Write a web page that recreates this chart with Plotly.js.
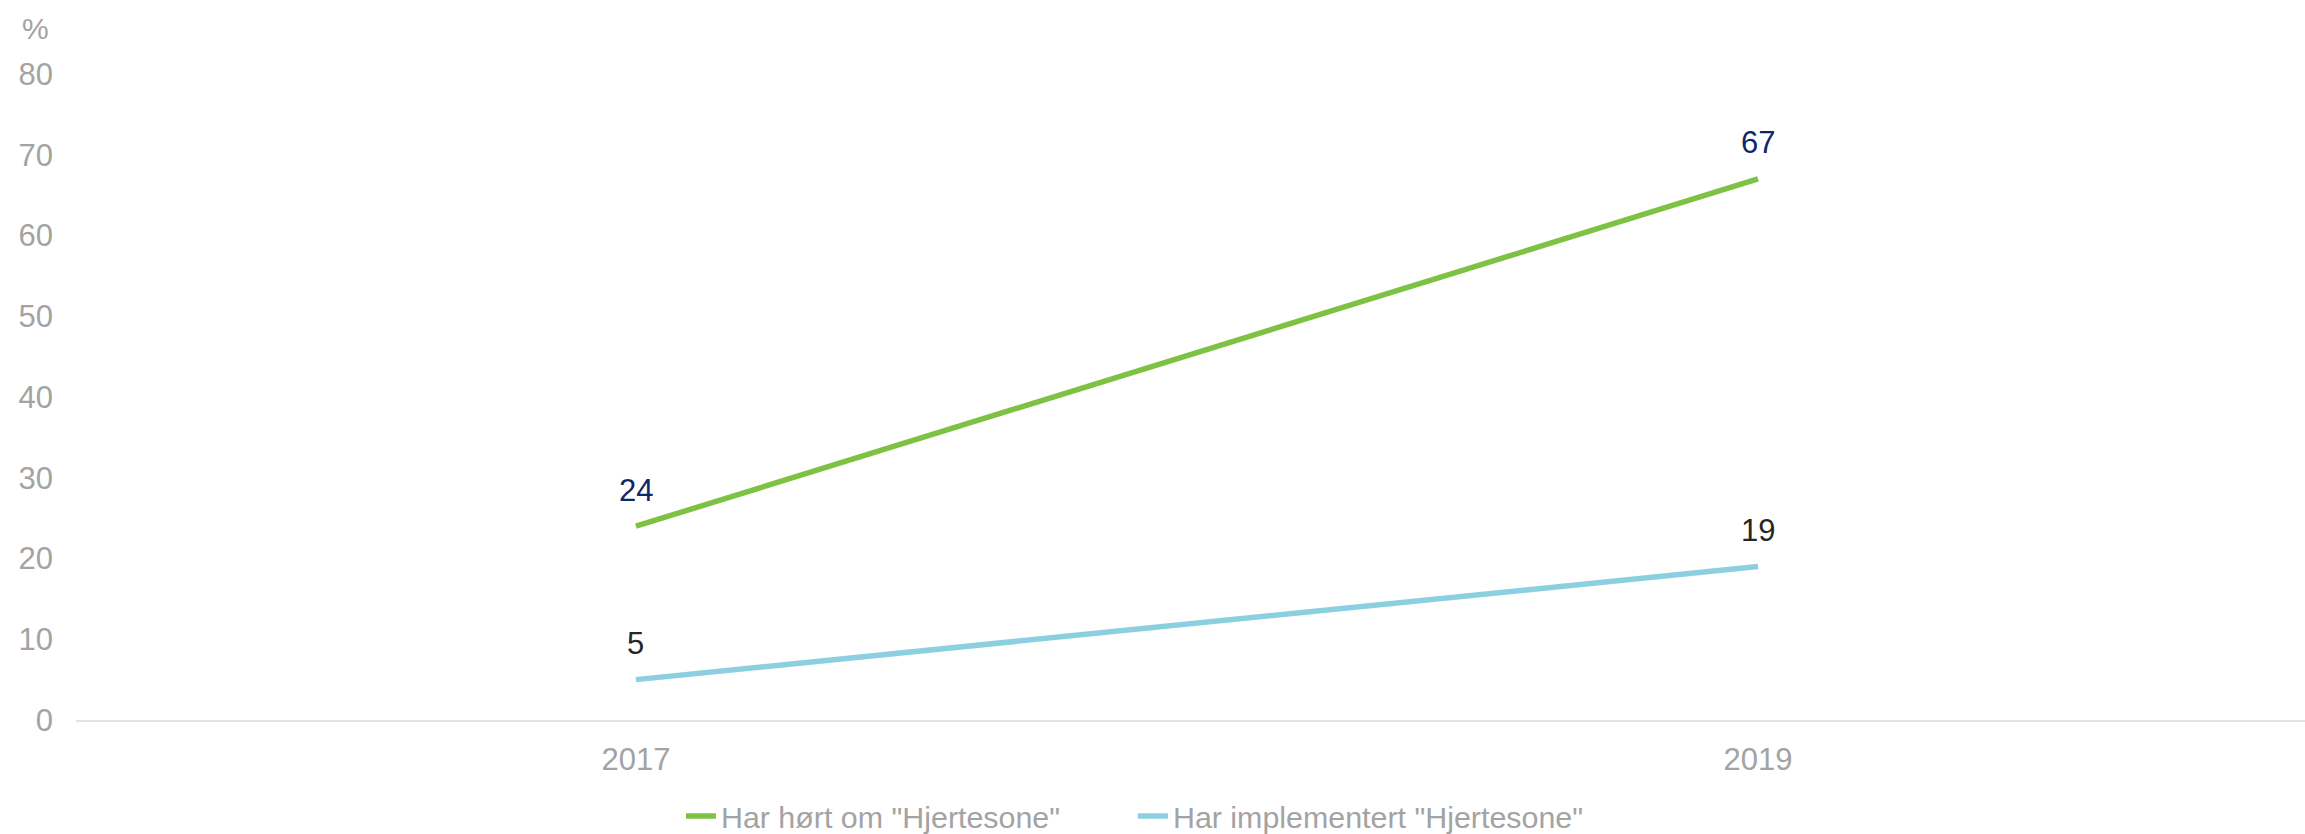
<!DOCTYPE html>
<html>
<head>
<meta charset="utf-8">
<script src="https://cdn.plot.ly/plotly-3.0.1.min.js"></script>
<style>html,body{margin:0;padding:0;background:#fff;}#chart{width:2305px;height:834px;}</style>
</head>
<body>
<div id="chart"></div>
<script>
const years = ["2017", "2019"];
const heardOf = [24, 67];
const implemented = [5, 19];
const seriesNames = ['Har hørt om "Hjertesone"', 'Har implementert "Hjertesone"'];
const yTicks = [0, 10, 20, 30, 40, 50, 60, 70, 80];

const FONT = "Liberation Sans, Arial, sans-serif";
const GRAY = "#a3a3a3";

const traces = [
  {x: years, y: heardOf, name: seriesNames[0], type: "scatter", mode: "lines",
   line: {color: "#7dc242", width: 5.5}},
  {x: years, y: implemented, name: seriesNames[1], type: "scatter", mode: "lines",
   line: {color: "#8ccfe0", width: 5.5}}
];

const annotations = [];
years.forEach((yr, i) => {
  annotations.push({xref: "x", yref: "y", x: i, y: heardOf[i], text: String(heardOf[i]), showarrow: false,
    yshift: 36, font: {family: FONT, size: 31, color: "#0c2868"}});
  annotations.push({xref: "x", yref: "y", x: i, y: implemented[i], text: String(implemented[i]), showarrow: false,
    yshift: 36, font: {family: FONT, size: 31, color: "#262626"}});
});
annotations.push({xref: "paper", yref: "paper", x: -0.018, y: 1.07, xanchor: "center", yanchor: "middle",
  text: "%", showarrow: false, font: {family: FONT, size: 30, color: GRAY}});

const layout = {
  width: 2305, height: 834,
  margin: {l: 76, r: 0, t: 74, b: 113.5, autoexpand: false},
  paper_bgcolor: "#fff", plot_bgcolor: "#fff",
  font: {family: FONT, size: 31, color: GRAY},
  xaxis: {type: "category", range: [-0.499, 1.4875], showgrid: false, zeroline: false,
    showline: true, linecolor: "#e3e3e3", linewidth: 2, ticks: "",
    tickfont: {family: FONT, size: 31, color: GRAY}, ticklabelstandoff: 11, fixedrange: true,
    automargin: false},
  yaxis: {range: [0, 80], tickvals: yTicks, showgrid: false, zeroline: false, showline: false,
    ticks: "", tickfont: {family: FONT, size: 31, color: GRAY}, ticklabelstandoff: 22, automargin: false},
  showlegend: true,
  legend: {orientation: "h", x: 0.2714, xanchor: "left", y: -0.149, yanchor: "middle",
    font: {family: FONT, size: 30.4, color: GRAY}, itemwidth: 30, tracegroupgap: 0,
    entrywidth: 407, entrywidthmode: "pixels", bgcolor: "rgba(0,0,0,0)"},
  annotations: annotations
};

Plotly.newPlot("chart", traces, layout, {staticPlot: true, displayModeBar: false});
</script>
</body>
</html>
